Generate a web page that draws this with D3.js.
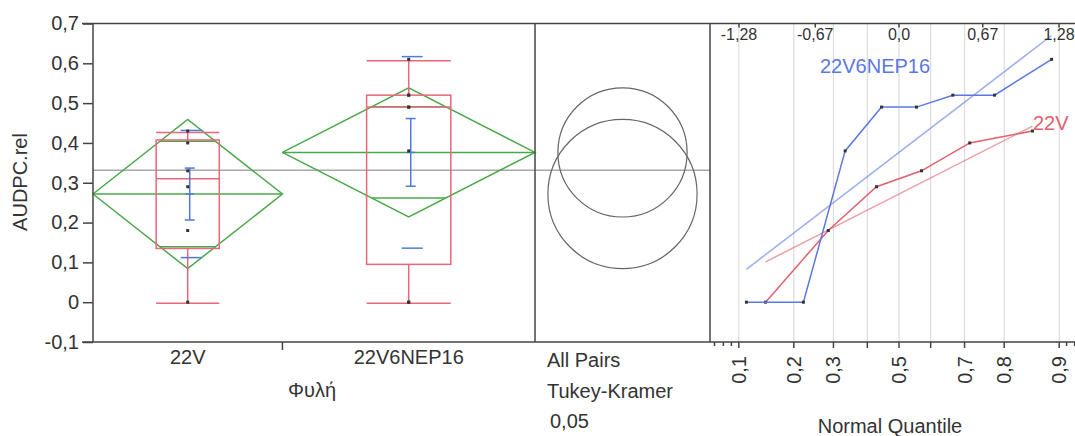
<!DOCTYPE html>
<html>
<head>
<meta charset="utf-8">
<script src="https://cdn.jsdelivr.net/npm/d3@7"></script>
<style>
  html, body { margin: 0; padding: 0; background: #fff; }
  svg { display: block; font-family: "Liberation Sans", Arial, sans-serif; }
  text { fill: #333; }
</style>
</head>
<body>
<svg id="chart" width="1075" height="436"></svg>
<script>
// Observations per strain (AUDPC.rel)
const groups = ["22V", "22V6NEP16"];
const values22V = [0, 0.18, 0.29, 0.33, 0.40, 0.43];
const values22V6NEP16 = [0, 0, 0.38, 0.49, 0.49, 0.52, 0.52, 0.61];
const yTicks = [-0.1, 0, 0.1, 0.2, 0.3, 0.4, 0.5, 0.6, 0.7];
const probLabels = [0.1, 0.2, 0.3, 0.5, 0.7, 0.8, 0.9];
const probGrid = [0.1, 0.2, 0.3, 0.4, 0.5, 0.6, 0.7, 0.8, 0.9];
const probMinor = [0.07, 0.08, 0.09, 0.91, 0.92, 0.93];
const zLabels = [-1.28, -0.67, 0, 0.67, 1.28];
const tCrit = 2.1788; // t(0.975, df = 12); equals Tukey q*/sqrt(2) for two groups
const alphaText = ["All Pairs", "Tukey-Kramer", "0,05"];

const data = [values22V, values22V6NEP16];
const colors = { box: "#e8677a", diamond: "#4aa84a", bar: "#4f78e0", mean: "#a8a8a8", frame: "#444" };
const seriesColor = ["#e0606e", "#5b78e2"];

const svg = d3.select("#chart");
const comma = s => String(s).replace(".", ",");

// Panel geometry
const yTop = 23.5, yBottom = 342;
const boxL = 93, boxR = 535, cmpR = 710, qL = 710, qR = 1088;

const y = d3.scaleLinear().domain([-0.1, 0.7]).range([yBottom, yTop]);

// group widths proportional to sample size
const counts = data.map(d => d.length);
const total = d3.sum(counts);
const xg = d3.scaleLinear().domain([0, total]).range([boxL, boxR]);
const cum = [0, counts[0], total];

// quantile with (n+1)p positioning
function quant(sorted, p) {
  const n = sorted.length, pos = (n + 1) * p;
  if (pos <= 1) return sorted[0];
  if (pos >= n) return sorted[n - 1];
  const lo = Math.floor(pos), f = pos - lo;
  return sorted[lo - 1] + f * (sorted[lo] - sorted[lo - 1]);
}

const dfErr = total - data.length;
const ssErr = d3.sum(data, d => { const m = d3.mean(d); return d3.sum(d, v => (v - m) ** 2); });
const rmse = Math.sqrt(ssErr / dfErr);
const grandMean = d3.mean(data.flat());

const stats = data.map((vals, i) => {
  const s = vals.slice().sort(d3.ascending);
  const n = s.length, mean = d3.mean(s), sd = d3.deviation(s);
  const q1 = quant(s, 0.25), q3 = quant(s, 0.75), med = quant(s, 0.5);
  const iqr = q3 - q1;
  const lo = d3.min(s.filter(v => v >= q1 - 1.5 * iqr));
  const hi = d3.max(s.filter(v => v <= q3 + 1.5 * iqr));
  const x0 = xg(cum[i]), x1 = xg(cum[i + 1]);
  return { name: groups[i], s, n, mean, sd, se: sd / Math.sqrt(n), q1, q3, med, lo, hi,
           x0, x1, xc: (x0 + x1) / 2, hw: tCrit * rmse / Math.sqrt(n) };
});

// ---------- Normal quantile panel: grid ----------
// inverse standard normal CDF (Acklam)
function probit(p) {
  const a = [-39.6968302866538, 220.946098424521, -275.928510446969, 138.357751867269, -30.6647980661472, 2.50662827745924];
  const b = [-54.4760987982241, 161.585836858041, -155.698979859887, 66.8013118877197, -13.2806815528857];
  const c = [-0.00778489400243029, -0.322396458041136, -2.40075827716184, -2.54973253934373, 4.37466414146497, 2.93816398269878];
  const d = [0.00778469570904146, 0.32246712907004, 2.445134137143, 3.75440866190742];
  const pl = 0.02425;
  let q, r;
  if (p < pl) { q = Math.sqrt(-2 * Math.log(p));
    return (((((c[0]*q+c[1])*q+c[2])*q+c[3])*q+c[4])*q+c[5]) / ((((d[0]*q+d[1])*q+d[2])*q+d[3])*q+1); }
  if (p > 1 - pl) { q = Math.sqrt(-2 * Math.log(1 - p));
    return -(((((c[0]*q+c[1])*q+c[2])*q+c[3])*q+c[4])*q+c[5]) / ((((d[0]*q+d[1])*q+d[2])*q+d[3])*q+1); }
  q = p - 0.5; r = q * q;
  return (((((a[0]*r+a[1])*r+a[2])*r+a[3])*r+a[4])*r+a[5])*q / (((((b[0]*r+b[1])*r+b[2])*r+b[3])*r+b[4])*r+1);
}
const xz = d3.scaleLinear().domain([-1.512, 1.512]).range([qL, qR]);

svg.append("g").selectAll("line").data(probGrid).join("line")
  .attr("x1", p => xz(probit(p))).attr("x2", p => xz(probit(p)))
  .attr("y1", yTop).attr("y2", yBottom)
  .attr("stroke", "#dcdcdc").attr("stroke-width", 1.2);

// ---------- Grand mean line ----------
svg.append("line").attr("x1", boxL).attr("x2", cmpR)
  .attr("y1", y(grandMean)).attr("y2", y(grandMean))
  .attr("stroke", colors.mean).attr("stroke-width", 1.5);

// ---------- Means diamonds ----------
const gD = svg.append("g").attr("fill", "none").attr("stroke", colors.diamond).attr("stroke-width", 1.5);
stats.forEach(st => {
  gD.append("path").attr("d", d3.line()([
    [st.x0, y(st.mean)], [st.xc, y(st.mean + st.hw)], [st.x1, y(st.mean)], [st.xc, y(st.mean - st.hw)], [st.x0, y(st.mean)]
  ]));
  gD.append("line").attr("x1", st.x0).attr("x2", st.x1).attr("y1", y(st.mean)).attr("y2", y(st.mean));
  const ov = st.hw / Math.SQRT2;
  const halfW = (st.x1 - st.x0) / 2 * (1 - 1 / Math.SQRT2);
  [st.mean + ov, st.mean - ov].forEach(v =>
    gD.append("line").attr("x1", st.xc - halfW).attr("x2", st.xc + halfW).attr("y1", y(v)).attr("y2", y(v)));
});

// ---------- Box plots ----------
const gB = svg.append("g").attr("fill", "none").attr("stroke", colors.box).attr("stroke-width", 1.5);
stats.forEach(st => {
  const bw = (st.x1 - st.x0) / 3;
  const bx0 = st.xc - bw / 2, bx1 = st.xc + bw / 2;
  gB.append("rect").attr("x", bx0).attr("y", y(st.q3)).attr("width", bw).attr("height", y(st.q1) - y(st.q3));
  gB.append("line").attr("x1", bx0).attr("x2", bx1).attr("y1", y(st.med)).attr("y2", y(st.med));
  gB.append("line").attr("x1", st.xc).attr("x2", st.xc).attr("y1", y(st.q3)).attr("y2", y(st.hi));
  gB.append("line").attr("x1", st.xc).attr("x2", st.xc).attr("y1", y(st.q1)).attr("y2", y(st.lo));
  gB.append("line").attr("x1", bx0).attr("x2", bx1).attr("y1", y(st.hi) + 1.5).attr("y2", y(st.hi) + 1.5);
  gB.append("line").attr("x1", bx0).attr("x2", bx1).attr("y1", y(st.lo) + 1).attr("y2", y(st.lo) + 1);
});

// ---------- Mean error bars and std dev lines ----------
const gE = svg.append("g").attr("stroke", colors.bar).attr("stroke-width", 1.5);
stats.forEach(st => {
  const xe = st.xc + 2;
  gE.append("line").attr("x1", xe).attr("x2", xe).attr("y1", y(st.mean + st.se)).attr("y2", y(st.mean - st.se));
  [st.mean + st.se, st.mean - st.se].forEach(v =>
    gE.append("line").attr("x1", xe - 5).attr("x2", xe + 5).attr("y1", y(v)).attr("y2", y(v)));
  gE.append("line").attr("x1", xe - 4).attr("x2", xe + 4).attr("y1", y(st.mean)).attr("y2", y(st.mean));
  [st.mean + st.sd, st.mean - st.sd].forEach(v =>
    gE.append("line").attr("x1", xe - 9).attr("x2", xe + 12).attr("y1", y(v)).attr("y2", y(v)));
});

// ---------- Data points ----------
stats.forEach(st => {
  svg.append("g").selectAll("rect").data(st.s).join("rect")
    .attr("x", st.xc - 1.5).attr("y", v => y(v) - 1.5).attr("width", 3).attr("height", 3)
    .attr("fill", "#333");
});

// ---------- Comparison circles ----------
const cx = (boxR + cmpR) / 2;
svg.append("g").selectAll("circle").data(stats).join("circle")
  .attr("cx", cx).attr("cy", st => y(st.mean))
  .attr("r", st => y(0) - y(st.hw))
  .attr("fill", "none").attr("stroke", "#666").attr("stroke-width", 1.2);

// ---------- Normal quantile plot ----------
stats.forEach((st, i) => {
  const pts = st.s.map((v, k) => [xz(probit((k + 1) / (st.n + 1))), y(v)]);
  const zA = probit(1 / (st.n + 1)), zB = probit(st.n / (st.n + 1));
  svg.append("line")
    .attr("x1", xz(zA)).attr("y1", y(st.mean + st.sd * zA))
    .attr("x2", xz(zB)).attr("y2", y(st.mean + st.sd * zB))
    .attr("stroke", seriesColor[i]).attr("stroke-opacity", 0.6).attr("stroke-width", 1.5);
  svg.append("path").attr("d", d3.line()(pts))
    .attr("fill", "none").attr("stroke", seriesColor[i]).attr("stroke-width", 1.5);
  svg.append("g").selectAll("rect").data(pts).join("rect")
    .attr("x", p => p[0] - 1.5).attr("y", p => p[1] - 1.5).attr("width", 3).attr("height", 3)
    .attr("fill", "#333");
});
svg.append("text").attr("x", 820).attr("y", 73).attr("font-size", 20)
  .style("fill", seriesColor[1]).text(groups[1]);
svg.append("text").attr("x", 1033).attr("y", 130).attr("font-size", 20)
  .style("fill", seriesColor[0]).text(groups[0]);

// ---------- Frame ----------
const gF = svg.append("g").attr("stroke", colors.frame).attr("stroke-width", 1.5);
gF.append("line").attr("x1", 82).attr("x2", 1075).attr("y1", yTop).attr("y2", yTop);
gF.append("line").attr("x1", 82).attr("x2", 1075).attr("y1", yBottom).attr("y2", yBottom);
[boxL, boxR, cmpR].forEach(x =>
  gF.append("line").attr("x1", x).attr("x2", x).attr("y1", yTop).attr("y2", yBottom));

// Y axis
const yAxis = svg.append("g").attr("transform", `translate(${boxL},0)`)
  .call(d3.axisLeft(y).tickValues(yTicks).tickSize(10).tickPadding(4).tickFormat(comma));
yAxis.select(".domain").remove();
yAxis.selectAll(".tick line").attr("stroke", colors.frame).attr("stroke-width", 1.5);
yAxis.selectAll(".tick text").attr("font-size", 20).attr("font-family", "Liberation Sans, Arial, sans-serif").style("fill", "#333");

// group axis
svg.append("line").attr("x1", stats[0].x1).attr("x2", stats[0].x1).attr("y1", yBottom).attr("y2", yBottom + 8)
  .attr("stroke", colors.frame).attr("stroke-width", 1.5);
svg.append("g").selectAll("text").data(stats).join("text")
  .attr("x", st => st.xc).attr("y", 364).attr("text-anchor", "middle").attr("font-size", 20)
  .text(st => st.name);
svg.append("text").attr("x", 288).attr("y", 397).attr("font-size", 20).text("Φυλή");
svg.append("text").attr("transform", "translate(27,182) rotate(-90)").attr("text-anchor", "middle")
  .attr("font-size", 20).text("AUDPC.rel");

// comparison-circle caption
svg.append("g").selectAll("text").data(alphaText).join("text")
  .attr("x", (d, i) => i === 2 ? 550 : 547).attr("y", (d, i) => 367 + i * 30.5)
  .attr("font-size", 20).text(d => d);

// probability axis (bottom) and normal quantile axis (top)
const gQ = svg.append("g").attr("stroke", colors.frame).attr("stroke-width", 1.5);
probGrid.concat(probMinor).forEach(p =>
  gQ.append("line").attr("x1", xz(probit(p))).attr("x2", xz(probit(p)))
    .attr("y1", yBottom).attr("y2", yBottom + (probGrid.includes(p) ? 6 : 4)));
zLabels.forEach(z =>
  gQ.append("line").attr("x1", xz(z)).attr("x2", xz(z)).attr("y1", yTop).attr("y2", yTop + 4));
svg.append("g").selectAll("text").data(probLabels).join("text")
  .attr("transform", p => `translate(${xz(probit(p))},356) rotate(-90)`)
  .attr("text-anchor", "end").attr("dominant-baseline", "central").attr("font-size", 20)
  .text(comma);
svg.append("g").selectAll("text").data(zLabels).join("text")
  .attr("x", z => xz(z)).attr("y", 40).attr("text-anchor", "middle").attr("font-size", 16)
  .text(z => z === 0 ? "0,0" : comma(z));
svg.append("text").attr("x", 890).attr("y", 433).attr("text-anchor", "middle").attr("font-size", 20)
  .text("Normal Quantile");
</script>
</body>
</html>
